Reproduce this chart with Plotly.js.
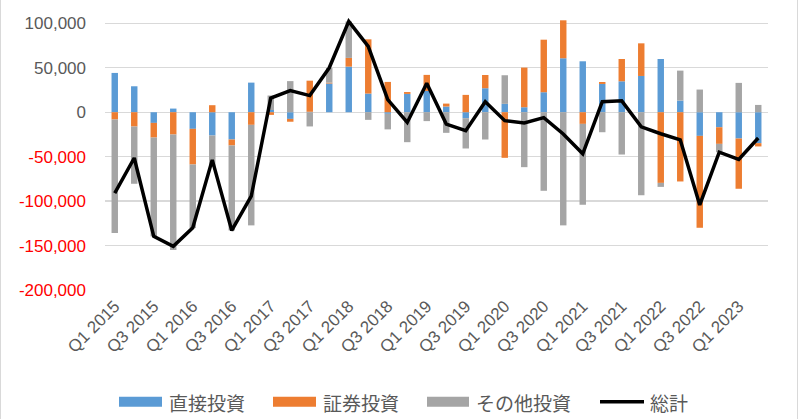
<!DOCTYPE html>
<html>
<head>
<meta charset="utf-8">
<script src="https://cdn.plot.ly/plotly-3.0.1.min.js"></script>
<style>
  html, body { margin: 0; padding: 0; background: #fff; }
  #chart { width: 800px; height: 419px; position: relative; }
  #frame { position: absolute; left: 0; top: -2px; width: 796px; height: 422px;
           border-left: 1px solid #d9d9d9; border-right: 1px solid #d9d9d9; pointer-events: none; }
</style>
</head>
<body>
<div id="chart"></div>
<div id="frame"></div>
<script>
// ---- data ----
const quarters = [
  "Q1 2015","Q2 2015","Q3 2015","Q4 2015",
  "Q1 2016","Q2 2016","Q3 2016","Q4 2016",
  "Q1 2017","Q2 2017","Q3 2017","Q4 2017",
  "Q1 2018","Q2 2018","Q3 2018","Q4 2018",
  "Q1 2019","Q2 2019","Q3 2019","Q4 2019",
  "Q1 2020","Q2 2020","Q3 2020","Q4 2020",
  "Q1 2021","Q2 2021","Q3 2021","Q4 2021",
  "Q1 2022","Q2 2022","Q3 2022","Q4 2022",
  "Q1 2023","Q2 2023"
];
const direct = [
  44200, 29200, -12000, 4100,
  -18700, -26200, -30700, 33300,
  2500, -7500, 500, 32300,
  51300, 21000, -1800, 20600,
  24000, 6400, -6700, 27000,
  9400, 5600, 22500, 60700,
  57300, 31800, 34800, 40800,
  59900, 13100, -26600, -16900,
  -29600, -34800
];
const portfolio = [
  -8200, -16100, -16500, -25100,
  -40100, 7900, -6700, -14200,
  -3000, -3200, 35000, 1000,
  9800, 61000, 34100, 2100,
  18000, 3300, 19500, 14900,
  -51300, 44600, 59100, 42700,
  -13100, 2200, 25100, 36700,
  -79500, -77900, -103400, -18700,
  -56500, -3700
];
const other = [
  -127700, -64400, -111200, -129900,
  -71500, -35000, -95600, -113100,
  16300, 35000, -16000, 16500,
  41000, -8600, -17500, -33700,
  -10000, -23200, -34100, -30700,
  32200, -61800, -88400, -127300,
  -91000, -22500, -47600, -93400,
  -4500, 33700, 25500, -9400,
  33000, 8200
];
const total = [
  -91000, -51500, -139700, -150900,
  -130000, -53600, -133000, -94500,
  16000, 24300, 18700, 50000,
  102200, 74000, 14200, -11500,
  32600, -13300, -20800, 11800,
  -9500, -12000, -6000, -24500,
  -46800, 11800, 12800, -16500,
  -24200, -31000, -104300, -45000,
  -53200, -29000
];
const seriesNames = ["直接投資", "証券投資", "その他投資", "総計"];
const yTickVals = [100000, 50000, 0, -50000, -100000, -150000, -200000];
const yTickText = ["100,000", "50,000", "0", "-50,000", "-100,000", "-150,000", "-200,000"];
const xTickLabels = quarters.filter((q, i) => i % 2 === 0);

// ---- styles ----
const colors = ["#5B9BD5", "#ED7D31", "#A5A5A5", "#000000"];
const axisGray = "#595959";
const negRed = "#FF0000";

const traces = [
  { type: "bar", name: seriesNames[0], x: quarters, y: direct, marker: { color: colors[0] } },
  { type: "bar", name: seriesNames[1], x: quarters, y: portfolio, marker: { color: colors[1] } },
  { type: "bar", name: seriesNames[2], x: quarters, y: other, marker: { color: colors[2] } },
  { type: "scatter", mode: "lines", name: seriesNames[3], x: quarters, y: total,
    line: { color: colors[3], width: 3.5 } }
];

const yTickHtml = yTickText.map((t, i) =>
  yTickVals[i] < 0 ? '<span style="fill:' + negRed + '">' + t + '</span>' : t);

// manual legend (pixel positions converted to paper coords)
const L = 105, R = 32, T = 17.66, B = 129, W = 800, H = 419;
const pw = W - L - R, ph = H - T - B;
const px = v => (v - L) / pw;
const py = v => (H - B - v) / ph;

const legendItems = [
  { x0: 119, x1: 162, tx: 167, kind: "rect" },
  { x0: 273, x1: 316, tx: 321, kind: "rect" },
  { x0: 427, x1: 469, tx: 474, kind: "rect" },
  { x0: 600, x1: 644, tx: 648, kind: "line" }
];
const shapes = [];
const annotations = [];
legendItems.forEach((it, i) => {
  if (it.kind === "rect") {
    shapes.push({ type: "rect", xref: "paper", yref: "paper",
      x0: px(it.x0), x1: px(it.x1), y0: py(407), y1: py(397),
      fillcolor: colors[i], line: { width: 0 } });
  } else {
    shapes.push({ type: "line", xref: "paper", yref: "paper",
      x0: px(it.x0), x1: px(it.x1), y0: py(402), y1: py(402),
      line: { color: colors[i], width: 3.5 } });
  }
  annotations.push({ xref: "paper", yref: "paper", x: px(it.tx), y: py(402.5),
    xanchor: "left", yanchor: "middle", showarrow: false, text: seriesNames[i],
    font: { family: "Noto Sans CJK JP", size: 19, color: axisGray } });
});

const layout = {
  width: W, height: H,
  margin: { l: L, r: R, t: T, b: B, pad: 0 },
  paper_bgcolor: "#ffffff", plot_bgcolor: "#ffffff",
  barmode: "relative",
  bargap: 0.67,
  showlegend: false,
  font: { family: "Liberation Sans, Arial, sans-serif", color: axisGray },
  xaxis: {
    type: "category",
    tickmode: "array", tickvals: xTickLabels, ticktext: xTickLabels,
    tickangle: -45,
    tickfont: { family: "Liberation Sans, Arial, sans-serif", size: 17, color: axisGray },
    ticklabelstandoff: 2,
    showgrid: false, showline: false, zeroline: false, ticks: "",
    fixedrange: true
  },
  yaxis: {
    range: [-200000, 106000],
    tickmode: "array", tickvals: yTickVals, ticktext: yTickHtml,
    tickfont: { family: "Liberation Sans, Arial, sans-serif", size: 17, color: axisGray },
    ticklabelstandoff: 18,
    showgrid: true, gridcolor: "#d9d9d9", gridwidth: 1.3,
    zeroline: true, zerolinecolor: "#d9d9d9", zerolinewidth: 1.3,
    showline: false, ticks: "",
    fixedrange: true
  },
  shapes: shapes,
  annotations: annotations
};

Plotly.newPlot("chart", traces, layout, { displayModeBar: false, staticPlot: true });
</script>
</body>
</html>
